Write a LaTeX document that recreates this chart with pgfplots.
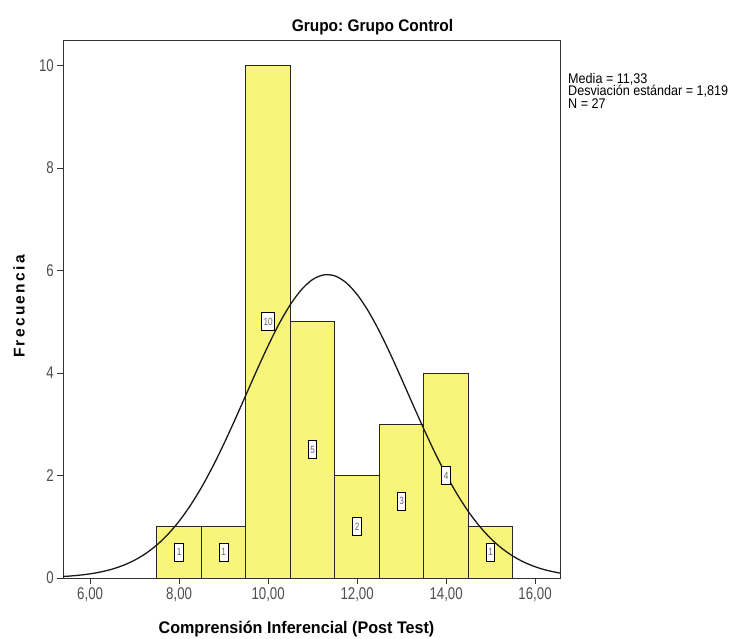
\documentclass[border=0pt]{standalone}
\usepackage{fontspec}
\setmainfont{Liberation Sans}
\newfontfamily\tickfont{Liberation Sans}[FakeStretch=0.78]
\newfontfamily\statfont{Liberation Sans}[FakeStretch=0.9]
\newfontfamily\titlefont{Liberation Sans}[FakeStretch=0.92]
\newfontfamily\xlabfont{Liberation Sans}[FakeStretch=0.96]
\newfontfamily\spaced{Liberation Sans}[LetterSpace=15]
\usepackage{pgfplots}
\pgfplotsset{compat=1.18}
\definecolor{baryellow}{RGB}{249,245,122}
\definecolor{framegray}{RGB}{50,50,50}
\frenchspacing
\begin{document}
\begin{tikzpicture}
\useasboundingbox (-63pt,-61pt) rectangle (674pt,578pt);
\begin{axis}[
    scale only axis,
    width=497pt, height=538pt,
    xmin=5.39, xmax=16.56,
    ymin=0, ymax=10.5,
    axis line style={framegray, line width=0.9pt},
    xtick={6,8,...,16},
    ytick={0,2,...,10},
    xtick pos=bottom, ytick pos=left,
    tick align=outside,
    major tick length=6pt,
    tick style={framegray, line width=0.9pt},
    /pgf/number format/assume math mode=true,
    xticklabel style={font=\fontsize{17}{18}\selectfont\tickfont, text=black!70,
      inner sep=1pt,
      /pgf/number format/.cd, fixed, fixed zerofill, precision=2, use comma},
    yticklabel style={font=\fontsize{17}{18}\selectfont\tickfont, text=black!70,
      inner sep=2pt},
    xticklabel shift=2pt,
    yticklabel shift=1pt,
    clip=true,
]
% histogram counts, bins of width 1
\addplot[ybar interval, fill=baryellow, draw=black!85, line width=0.9pt]
  coordinates {(7.5,1) (8.5,1) (9.5,10) (10.5,5) (11.5,2) (12.5,3) (13.5,4) (14.5,1) (15.5,1)};
% normal curve
\addplot[black!90, line width=1.3pt, smooth, no markers] coordinates {
  (5.39,0.03) (5.5,0.035) (5.75,0.054) (6.0,0.081) (6.25,0.120) (6.5,0.174)
  (6.75,0.249) (7.0,0.348) (7.25,0.478) (7.5,0.645) (7.75,0.854) (8.0,1.108)
  (8.25,1.413) (8.5,1.765) (8.75,2.166) (9.0,2.607) (9.25,3.080) (9.5,3.570)
  (9.75,4.061) (10.0,4.533) (10.25,4.965) (10.5,5.336) (10.75,5.628)
  (11.0,5.825) (11.25,5.916) (11.5,5.896) (11.75,5.766) (12.0,5.533)
  (12.25,5.211) (12.5,4.815) (12.75,4.367) (13.0,3.885) (13.25,3.393)
  (13.5,2.907) (13.75,2.444) (14.0,2.017) (14.25,1.633) (14.5,1.297)
  (14.75,1.012) (15.0,0.773) (15.25,0.581) (15.5,0.428) (15.75,0.309)
  (16.0,0.220) (16.25,0.153) (16.56,0.095)};
% count boxes at half bar height
\addplot[only marks, mark=none, nodes near coords, point meta=explicit symbolic,
  nodes near coords style={anchor=center, draw=black, fill=white, line width=0.8pt,
    font=\fontsize{10.5}{11}\selectfont\tickfont, text=black!60, inner xsep=2pt,
    inner ysep=0pt, minimum height=18pt}]
  coordinates {(8,0.5)[1] (9,0.5)[1] (10,5)[10] (11,2.5)[5] (12,1)[2]
               (13,1.5)[3] (14,2)[4] (15,0.5)[1]};
\end{axis}
\node[font=\fontsize{16.8}{18}\selectfont\titlefont\bfseries] at (309.5pt,551pt) {Grupo: Grupo Control};
\node[anchor=north west, align=left, font=\fontsize{14}{12.5}\selectfont\statfont, inner sep=0pt]
  at (505pt,505pt) {Media = 11,33\\Desviación estándar = 1,819\\N = 27};
\node[font=\fontsize{16.8}{20}\selectfont\xlabfont\bfseries] at (233.5pt,-51pt) {Comprensión Inferencial (Post Test)};
\node[rotate=90, font=\fontsize{15.5}{18}\selectfont\spaced\bfseries] at (-44pt,271.5pt) {Frecuencia};
\end{tikzpicture}
\end{document}
